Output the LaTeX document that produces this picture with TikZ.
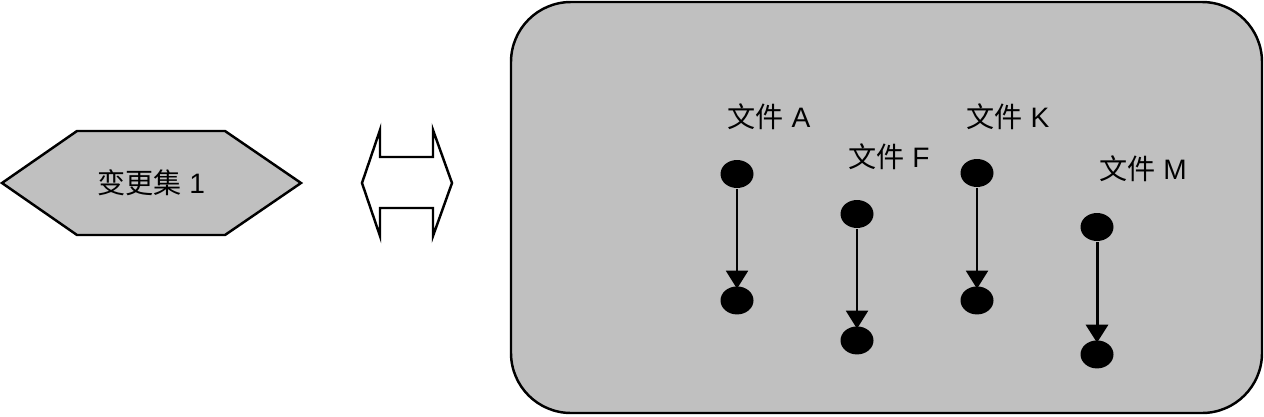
\documentclass[tikz,border=0pt]{standalone}
\usepackage{fontspec}
\setmainfont{Liberation Sans}
\newfontfamily\cjk{Noto Sans CJK SC}
\usetikzlibrary{positioning,shapes.geometric,arrows.meta}
\definecolor{panelGray}{HTML}{C0C0C0}

\begin{document}
\begin{tikzpicture}[x=0.02cm, y=-0.02cm, line width=1.4pt,
  every node/.style={font=\fontsize{16}{19}\selectfont},
  dot/.style={ellipse, fill=black, inner sep=0pt, minimum width=0.66cm, minimum height=0.56cm},
  flow/.style={-{Triangle[width=0.44cm, length=0.36cm]}, line width=1.1pt, shorten >=-2pt}]
  \useasboundingbox (0,0) rectangle (1264,416);

  % change set
  \draw[fill=panelGray] (2,183) -- (77,131) -- (225,131) -- (301,183) -- (225,235) -- (77,235) -- cycle;
  \node (cs1) at (151,183) {{\cjk 变更集} 1};

  % double arrow
  \draw (362,183) -- (380,130) -- (380,157) -- (433,157) -- (433,130) -- (452,183)
        -- (433,236) -- (433,208) -- (380,208) -- (380,236) -- cycle;

  % repository
  \draw[fill=panelGray, rounded corners=1.2cm] (511,2) rectangle (1262,413);

  \node (fa) at (769,117) {{\cjk 文件} A};
  \node (ff) at (889,157) {{\cjk 文件} F};
  \node (fk) at (1008,117) {{\cjk 文件} K};
  \node (fm) at (1143,169) {{\cjk 文件} M};

  \node[dot] (a1) at (737,174) {};
  \node[dot, below=1.92cm of a1] (a2) {};
  \node[dot] (f1) at (857,214) {};
  \node[dot, below=1.92cm of f1] (f2) {};
  \node[dot] (k1) at (977,173) {};
  \node[dot, below=1.94cm of k1] (k2) {};
  \node[dot] (m1) at (1097,227) {};
  \node[dot, below=1.94cm of m1] (m2) {};

  \draw[flow] (a1) -- (a2);
  \draw[flow] (f1) -- (f2);
  \draw[flow] (k1) -- (k2);
  \draw[flow, line width=1.7pt] (m1) -- (m2);
\end{tikzpicture}
\end{document}
